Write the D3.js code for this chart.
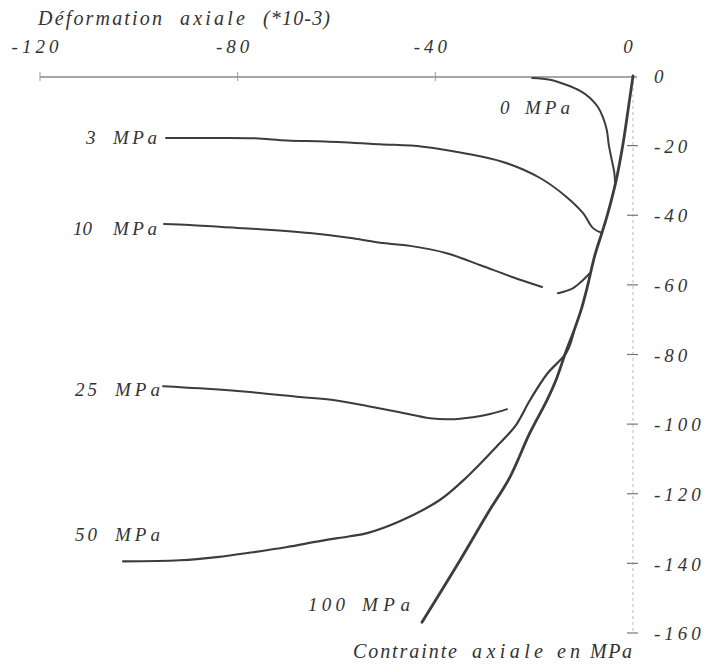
<!DOCTYPE html>
<html>
<head>
<meta charset="utf-8">
<script src="https://cdn.jsdelivr.net/npm/d3@7"></script>
<style>
  body { margin: 0; background: #fff; }
  text { font-family: "Liberation Serif", "DejaVu Serif", serif; font-style: italic; fill: #333; }
</style>
</head>
<body>
<div id="chart"></div>
<script>
// axes
var xTicks = [-120, -80, -40, 0];
var yTicks = [0, -20, -40, -60, -80, -100, -120, -140, -160];

// courbes : [déformation axiale (*10-3), contrainte axiale (MPa)]
var s0 = [[-20.4, -0.6], [-16.8, -1.1], [-13.4, -2.6], [-10.7, -4.3], [-8.7, -6.3], [-7.1, -8.9],
  [-6.1, -11.8], [-5.3, -15.5], [-4.9, -19.8], [-4.3, -24.1], [-3.8, -27.6], [-3.6, -31.3]];

var s3 = [[-94.5, -17.8], [-84.0, -17.8], [-76.5, -17.9], [-70.0, -18.5], [-62.3, -18.8], [-51.2, -19.6],
  [-42.5, -20.3], [-34.4, -22.1], [-26.3, -24.7], [-18.8, -29.3], [-13.4, -34.8],
  [-10.1, -39.4], [-8.1, -43.7], [-6.3, -45.1]];

var s10 = [[-94.9, -42.5], [-89.7, -42.8], [-83.2, -43.4], [-75.5, -44.0], [-65.4, -45.1],
  [-56.7, -46.6], [-50.6, -48.0], [-45.1, -48.8], [-37.7, -50.9], [-31.0, -54.3],
  [-24.3, -57.8], [-18.4, -60.6], null, [-15.2, -62.4], [-12.1, -60.9], [-10.1, -58.6], [-8.7, -56.6]];

var s25 = [[-95.1, -89.1], [-87.7, -89.7], [-77.5, -90.8], [-67.4, -92.2], [-60.7, -93.1],
  [-53.8, -94.8], [-47.2, -96.6], [-41.1, -98.3], [-37.0, -98.6], [-32.4, -98.0],
  [-28.9, -97.1], [-25.5, -95.7]];

var s50 = [[-103.2, -139.4], [-91.7, -139.1], [-84.2, -138.2], [-76.9, -136.8], [-70.0, -135.3],
  [-63.4, -133.6], [-57.3, -132.2], [-53.8, -131.3], [-47.2, -127.9], [-39.1, -121.8],
  [-33.4, -114.9], [-27.5, -106.3], [-23.8, -100.5], [-20.8, -93.0], [-17.4, -85.6],
  [-13.4, -79.3], [-11.9, -73.0]];

var s100 = [[0, 0], [-1.0, -9.8], [-2.0, -19.3], [-3.4, -29.9], [-5.3, -40.5], [-6.3, -45.1],
  [-7.7, -51.4], [-9.3, -60.9], [-10.5, -67.2], [-11.9, -73.0], [-13.6, -79.3], [-15.6, -87.4],
  [-17.4, -93.1], [-20.9, -102.6], [-24.9, -115.2], [-29.4, -125.6], [-35.0, -139.1], [-42.7, -156.9]];

var series = [
  { name: "0 MPa", data: s0, w: 2 },
  { name: "3 MPa", data: s3, w: 2 },
  { name: "10 MPa", data: s10, w: 2 },
  { name: "25 MPa", data: s25, w: 2 },
  { name: "50 MPa", data: s50, w: 2.2 },
  { name: "100 MPa", data: s100, w: 2.8 }
];

// textes placés mot par mot : [mot, x début, x fin]
var texts = [
  { y: 25, size: 20, words: [["Déformation", 38, 162], ["axiale", 180, 245], ["(*10-3)", 263, 330]] },
  { y: 658, size: 20, words: [["Contrainte", 353, 457], ["axiale", 472, 543], ["en", 557, 580], ["MPa", 590, 632]] },
  { y: 114, size: 19, words: [["0", 500, 508], ["MPa", 525, 570]] },
  { y: 144, size: 19, words: [["3", 86, 94], ["MPa", 113, 157]] },
  { y: 235, size: 19, words: [["10", 73, 92], ["MPa", 113, 157]] },
  { y: 396, size: 19, words: [["25", 75, 97], ["MPa", 115, 160]] },
  { y: 541, size: 19, words: [["50", 75, 97], ["MPa", 115, 160]] },
  { y: 611, size: 19, words: [["100", 308, 345], ["MPa", 362, 410]] }
];

var width = 707, height = 664;

var svg = d3.select("#chart").append("svg")
  .attr("width", width)
  .attr("height", height);

var x = d3.scaleLinear().domain([-120, 0]).range([40, 633]);
var y = d3.scaleLinear().domain([0, -160]).range([76, 633]);

// axe horizontal (en haut)
svg.append("line")
  .attr("x1", x(-120)).attr("x2", x(0) + 4)
  .attr("y1", y(0) + 1).attr("y2", y(0) + 1)
  .attr("stroke", "#888").attr("stroke-width", 1.3);

svg.selectAll(".xtick")
  .data(xTicks.slice(0, 3))
  .enter()
  .append("line")
  .attr("x1", function(d) { return x(d); })
  .attr("x2", function(d) { return x(d); })
  .attr("y1", y(0) - 4).attr("y2", y(0) + 5)
  .attr("stroke", "#999").attr("stroke-width", 1);

svg.selectAll(".xlab")
  .data(xTicks)
  .enter()
  .append("text")
  .attr("x", function(d) { return x(d) - 3; })
  .attr("y", 53)
  .attr("text-anchor", "middle")
  .attr("font-size", 19)
  .attr("letter-spacing", 4)
  .text(function(d) { return d; });

// axe vertical (à droite), pointillé
svg.append("line")
  .attr("x1", x(0)).attr("x2", x(0))
  .attr("y1", y(0)).attr("y2", y(-160))
  .attr("stroke", "#bbb").attr("stroke-width", 1)
  .attr("stroke-dasharray", "3,3");

svg.selectAll(".ytick")
  .data(yTicks.slice(1))
  .enter()
  .append("line")
  .attr("x1", x(0) - 6).attr("x2", x(0) + 5)
  .attr("y1", function(d) { return y(d); })
  .attr("y2", function(d) { return y(d); })
  .attr("stroke", "#777").attr("stroke-width", 1.2);

svg.selectAll(".ylab")
  .data(yTicks)
  .enter()
  .append("text")
  .attr("x", 654)
  .attr("y", function(d) { return y(d); })
  .attr("dy", "0.38em")
  .attr("font-size", 19)
  .attr("letter-spacing", 4)
  .text(function(d) { return d; });

// courbes
var line = d3.line()
  .defined(function(d) { return d !== null; })
  .curve(d3.curveCatmullRom.alpha(0.5))
  .x(function(d) { return x(d[0]); })
  .y(function(d) { return y(d[1]); });

svg.selectAll(".curve")
  .data(series)
  .enter()
  .append("path")
  .attr("class", "curve")
  .attr("fill", "none")
  .attr("stroke", "#3c3c3c")
  .attr("stroke-width", function(d) { return d.w; })
  .attr("stroke-linejoin", "round")
  .attr("stroke-linecap", "round")
  .attr("d", function(d) { return line(d.data); });

// titres et étiquettes
var t = svg.selectAll(".lab")
  .data(texts)
  .enter()
  .append("text")
  .attr("class", "lab")
  .attr("y", function(d) { return d.y; })
  .attr("font-size", function(d) { return d.size; });

t.selectAll("tspan")
  .data(function(d) { return d.words; })
  .enter()
  .append("tspan")
  .attr("x", function(w) { return w[1]; })
  .attr("textLength", function(w) { return w[2] - w[1]; })
  .attr("lengthAdjust", "spacing")
  .text(function(w) { return w[0]; });
</script>
</body>
</html>
